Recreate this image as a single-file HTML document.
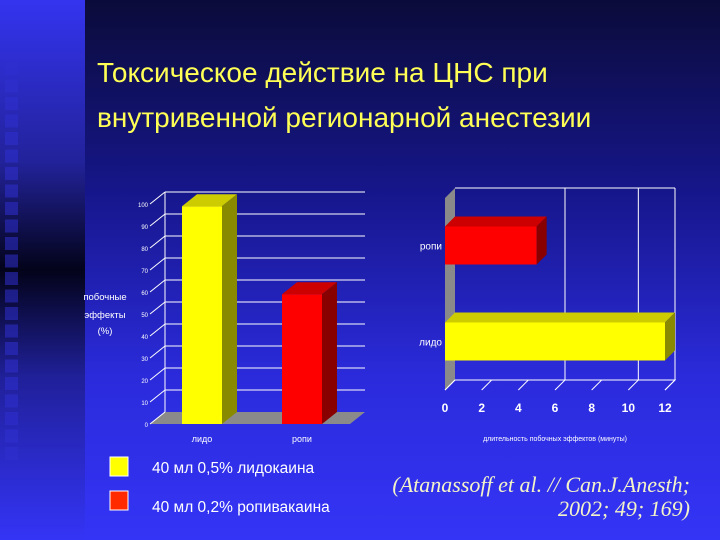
<!DOCTYPE html>
<html><head><meta charset="utf-8"><style>
body{margin:0;width:720px;height:540px;overflow:hidden;font-family:"Liberation Sans",sans-serif}
svg{display:block}
</style></head><body>
<svg width="720" height="540" viewBox="0 0 720 540" xmlns="http://www.w3.org/2000/svg">
<defs>
<linearGradient id="bg" x1="0" y1="0" x2="0" y2="1">
<stop offset="0" stop-color="#0b0b3a"/><stop offset="0.35" stop-color="#16168a"/><stop offset="0.7" stop-color="#2b2bdc"/><stop offset="1" stop-color="#3434f6"/></linearGradient>
<linearGradient id="strip" x1="0" y1="0" x2="0" y2="1">
<stop offset="0" stop-color="#3434f0"/><stop offset="0.3" stop-color="#22229a"/><stop offset="0.5" stop-color="#03031a"/><stop offset="0.7" stop-color="#20209a"/><stop offset="1" stop-color="#3434f6"/></linearGradient>
</defs>
<rect width="720" height="540" fill="url(#bg)"/>
<rect width="85" height="540" fill="url(#strip)"/>
<g id="squares"></g>
<text x="97" y="82" font-size="28" fill="#ffff55">Токсическое действие на ЦНС при</text>
<text x="97" y="127" font-size="28" fill="#ffff55">внутривенной регионарной анестезии</text>
<g id="left"></g>
<g id="right"></g>
<rect x="110" y="457" width="18" height="19" fill="#ffff00" stroke="#fff" stroke-width="1"/>
<text x="152" y="473" font-size="15.5" fill="#fff">40 мл 0,5% лидокаина</text>
<rect x="110" y="491" width="18" height="19" fill="#ff2a00" stroke="#fff" stroke-width="1"/>
<text x="152" y="512" font-size="15.5" fill="#fff">40 мл 0,2% ропивакаина</text>
<text x="690" y="492" font-size="22" font-style="italic" font-family="Liberation Serif,serif" fill="#f4f4c8" text-anchor="end">(Atanassoff et al. // Can.J.Anesth;</text>
<text x="690" y="516" font-size="22" font-style="italic" font-family="Liberation Serif,serif" fill="#f4f4c8" text-anchor="end">2002; 49; 169)</text>
</svg>
<script>
const NS="http://www.w3.org/2000/svg";
function mk(p,t,a){const e=document.createElementNS(NS,t);for(const k in a)e.setAttribute(k,a[k]);p.appendChild(e);return e;}
const sq=document.getElementById('squares');
for(let y=62;y<460;y+=17.5){const r=mk(sq,'rect',{x:5,y:y,width:13,height:13,fill:'#3030d0',opacity:0.55});

}

// ---- Left chart data ----
const leftCats=["лидо","ропи"];
const leftVals=[99,59];
const leftTicks=[0,10,20,30,40,50,60,70,80,90,100];
const L=document.getElementById('left');
const y0=424,y100=204,dx=15,dy=-12,xL=150,xR=350;
const ly=v=>y0-(v/100)*(y0-y100);
let f=mk(L,'polygon',{points:`${xL},${y0} ${xR},${y0} ${xR+dx},${y0+dy} ${xL+dx},${y0+dy}`,fill:'#8a8a8a'});

leftTicks.forEach(t=>{const y=ly(t);
 const g=mk(L,'line',{x1:xL,y1:y,x2:xL+dx,y2:y+dy,stroke:'#fff','stroke-width':1});
 
 if(t>0){const h=mk(L,'line',{x1:xL+dx,y1:y+dy,x2:xR+dx,y2:y+dy,stroke:'#fff','stroke-width':1});
 }
 const tx=mk(L,'text',{x:xL-2,y:y+3,'font-size':6,fill:'#fff','text-anchor':'end'});tx.textContent=t;
 });
let ax=mk(L,'line',{x1:xL+dx,y1:y0+dy,x2:xL+dx,y2:ly(100)+dy,stroke:'#fff'});

const leftColors=[["#ffff00","#cccc00","#8a8a00"],["#ff0000","#cc0000","#880000"]];
const bw=40,slot=(xR-xL)/leftCats.length;
leftCats.forEach((c,i)=>{const x=xL+slot*i+slot/2-bw/2+2,yt=ly(leftVals[i]);const col=leftColors[i];
 const fr=mk(L,'rect',{x:x,y:yt,width:bw,height:y0-yt,fill:col[0]});
 
 const tp=mk(L,'polygon',{points:`${x},${yt} ${x+bw},${yt} ${x+bw+dx},${yt+dy} ${x+dx},${yt+dy}`,fill:col[1]});
 
 const sd=mk(L,'polygon',{points:`${x+bw},${yt} ${x+bw+dx},${yt+dy} ${x+bw+dx},${y0+dy} ${x+bw},${y0}`,fill:col[2]});
 
 const lb=mk(L,'text',{x:x+bw/2,y:442,'font-size':9,fill:'#fff','text-anchor':'middle'});lb.textContent=c;
 });
const yt1=mk(L,'text',{x:105,y:300,'font-size':9.5,fill:'#fff','text-anchor':'middle'});yt1.textContent='побочные';
const yt2=mk(L,'text',{x:105,y:318,'font-size':9.5,fill:'#fff','text-anchor':'middle'});yt2.textContent='эффекты';
const yt3=mk(L,'text',{x:105,y:334,'font-size':9.5,fill:'#fff','text-anchor':'middle'});yt3.textContent='(%)';
[yt1,yt2,yt3].forEach(e=>{});

// ---- Right chart data ----
const rightCats=["ропи","лидо"];
const rightVals=[5,12];
const rightTicks=[0,2,4,6,8,10,12];
const R=document.getElementById('right');
const x0=445,x12=665,fy=390,ry=188,rdx=10,rdy=-10;
const rx=v=>x0+(v/12)*(x12-x0);
const wall=mk(R,'polygon',{points:`${x0},${fy} ${x0+rdx},${fy+rdy} ${x0+rdx},${ry} ${x0},${ry+10}`,fill:'#8a8a8a'});

const fl=mk(R,'polyline',{points:`${x0},${fy} ${x0+rdx},${fy+rdy} ${x12+rdx},${fy+rdy} ${x12},${fy}`,fill:'none',stroke:'#fff'});

rightTicks.forEach(t=>{const x=rx(t);
 const g=mk(R,'line',{x1:x,y1:fy,x2:x+rdx,y2:fy+rdy,stroke:'#fff'});
 
 if(t==6||t==10||t==12){const v=mk(R,'line',{x1:x+rdx,y1:fy+rdy,x2:x+rdx,y2:ry,stroke:'#fff'});
 }
 const tx=mk(R,'text',{x:x,y:412,'font-size':12,'font-weight':'bold',fill:'#fff','text-anchor':'middle'});tx.textContent=t;
 });
const tl=mk(R,'line',{x1:x0+rdx,y1:ry,x2:x12+rdx,y2:ry,stroke:'#fff'});

const rightColors=[["#ff0000","#cc0000","#880000"],["#ffff00","#cccc00","#8a8a00"]];
const bh=38,rslot=(fy-ry)/rightCats.length;
rightCats.forEach((c,i)=>{const yc=ry+rslot*i+rslot/2+(i==0?7:2),yt=yc-bh/2,xe=rx(rightVals[i]);const col=rightColors[i];
 const fr=mk(R,'rect',{x:x0,y:yt,width:xe-x0,height:bh,fill:col[0]});
 
 const tp=mk(R,'polygon',{points:`${x0},${yt} ${xe},${yt} ${xe+rdx},${yt+rdy} ${x0+rdx},${yt+rdy}`,fill:col[1]});
 
 const sd=mk(R,'polygon',{points:`${xe},${yt} ${xe+rdx},${yt+rdy} ${xe+rdx},${yt+bh+rdy} ${xe},${yt+bh}`,fill:col[2]});
 
 const lb=mk(R,'text',{x:442,y:yc+4,'font-size':10,fill:'#fff','text-anchor':'end'});lb.textContent=c;
 });
const xt=mk(R,'text',{x:555,y:441,'font-size':7,fill:'#fff','text-anchor':'middle'});xt.textContent='длительность побочных эффектов (минуты)';

</script>
</body></html>
